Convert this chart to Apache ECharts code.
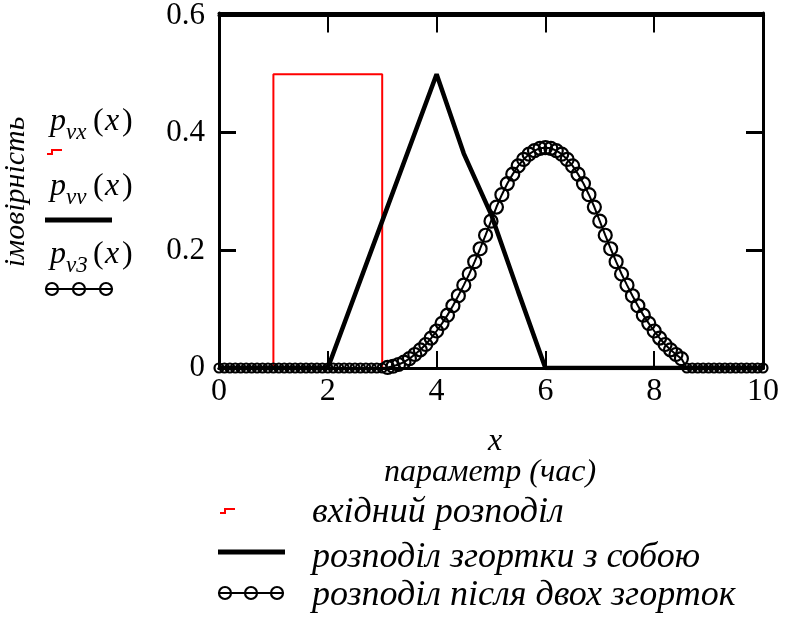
<!DOCTYPE html>
<html>
<head>
<meta charset="utf-8">
<script src="https://cdn.jsdelivr.net/npm/echarts@6/dist/echarts.min.js"></script>
<style>
  html, body { margin: 0; padding: 0; background: #fff; }
  #wrap { position: relative; width: 787px; height: 620px; }
  #chart, #frame, #labels { position: absolute; left: 0; top: 0; width: 787px; height: 620px; }
  #frame, #labels { pointer-events: none; }
</style>
</head>
<body>
<div id="wrap">
  <div id="chart"></div>
  <div id="frame"></div>
  <div id="labels"></div>
</div>
<script>
// значення
var yTicks = [0, 0.2, 0.4, 0.6];

// вхідний розподіл (рівномірний на [1,3])
var pvx = [[0, 0], [1, 0], [1, 0.5], [3, 0.5], [3, 0], [10, 0]];

// розподіл згортки з собою (трикутник)
var pvv = [[0, 0], [2, 0], [3, 0.25], [4, 0.5], [4.5, 0.365], [5, 0.262], [5.5, 0.13], [6, 0], [10, 0]];

// розподіл після двох згорток, крок 0.1 від 0 до 10
var pv3 = [
  0, 0, 0, 0, 0, 0, 0, 0, 0, 0,
  0, 0, 0, 0, 0, 0, 0, 0, 0, 0,
  0, 0, 0, 0, 0, 0, 0, 0, 0, 0,
  0, 0.001, 0.003, 0.006, 0.010, 0.016, 0.023, 0.031, 0.040, 0.051,
  0.063, 0.076, 0.090, 0.106, 0.123, 0.141, 0.160, 0.181, 0.203, 0.226,
  0.250, 0.274, 0.295, 0.314, 0.330, 0.344, 0.355, 0.364, 0.370, 0.374,
  0.375, 0.374, 0.370, 0.364, 0.355, 0.344, 0.330, 0.314, 0.295, 0.274,
  0.250, 0.226, 0.203, 0.181, 0.160, 0.141, 0.123, 0.106, 0.090, 0.076,
  0.063, 0.051, 0.040, 0.031, 0.023, 0.016, 0, 0, 0, 0,
  0, 0, 0, 0, 0, 0, 0, 0, 0, 0,
  0
];
var pv3Step = 0.1;

var legendNames = ['вхідний розподіл', 'розподіл згортки з собою', 'розподіл після двох згорток'];
var yTitle = 'імовірність';
var xTitle = 'x';
var xSubTitle = 'параметр (час)';

var serif = 'Liberation Serif, Times New Roman, serif';

var pv3Data = pv3.map(function (v, i) { return [Math.round(i * pv3Step * 10) / 10, v]; });

var gridBox = { left: 219, right: 24, top: 13, bottom: 252 };
var axisLineStyle = { color: '#000', width: 3 };
var tickStyle = { show: true, inside: true, length: 17, lineStyle: { color: '#000', width: 2 } };
var hiddenSplit = { show: true, lineStyle: { color: 'rgba(0,0,0,0)' } };

// осі: showLabels - чи малювати підписи поділок
function makeAxes(showLabels) {
  return {
    xAxis: [{
      type: 'value', min: 0, max: 10, interval: 2,
      axisLine: { show: true, lineStyle: axisLineStyle },
      axisTick: tickStyle,
      axisLabel: { show: showLabels, color: '#000', fontFamily: serif, fontSize: 32, margin: 8 },
      splitLine: hiddenSplit
    }, {
      type: 'value', position: 'top', min: 0, max: 10, interval: 2,
      axisLine: { show: true, onZero: false, lineStyle: axisLineStyle },
      axisTick: tickStyle, axisLabel: { show: false }, splitLine: hiddenSplit
    }],
    yAxis: [{
      type: 'value', min: 0, max: 0.6, interval: 0.2,
      axisLine: { show: true, lineStyle: axisLineStyle },
      axisTick: tickStyle,
      axisLabel: {
        show: showLabels, color: '#000', fontFamily: serif, fontSize: 31, margin: 14,
        formatter: function (v) { return String(Math.round(v * 10) / 10); }
      },
      splitLine: hiddenSplit
    }, {
      type: 'value', position: 'right', min: 0, max: 0.6, interval: 0.2,
      axisLine: { show: true, onZero: false, lineStyle: axisLineStyle },
      axisTick: tickStyle, axisLabel: { show: false }, splitLine: hiddenSplit
    }]
  };
}

// ---- сам графік: осі та криві ----
var chart = echarts.init(document.getElementById('chart'));
var mainAxes = makeAxes(true);
chart.setOption({
  backgroundColor: '#fff',
  animation: false,
  grid: gridBox,
  xAxis: mainAxes.xAxis,
  yAxis: mainAxes.yAxis,
  series: [{
    type: 'line', data: pvx, showSymbol: false, z: -1,
    lineStyle: { color: '#ff0000', width: 2 }
  }, {
    type: 'line', data: pvv, showSymbol: false, z: 4,
    lineStyle: { color: '#000', width: 4.5 }
  }, {
    type: 'line', data: pv3Data, z: 5,
    symbol: 'circle',
    symbolSize: function (d) { return d[1] === 0 ? 9 : 13; },
    lineStyle: { color: '#000', width: 2 },
    itemStyle: { color: 'rgba(0,0,0,0)', borderColor: '#000', borderWidth: 2.2 }
  }]
});

// ---- рамка з поділками (окремий прозорий шар) ----
var frame = echarts.init(document.getElementById('frame'));
var frameAxes = makeAxes(false);
frame.setOption({
  backgroundColor: 'transparent',
  animation: false,
  grid: gridBox,
  xAxis: frameAxes.xAxis,
  yAxis: frameAxes.yAxis
});

// ---- підписи осей та легенди (окремий шар) ----
var labels = echarts.init(document.getElementById('labels'));

// підпис функції з індексом: p_sub(x), y - базова лінія
function fnLabel(x, y, sub) {
  return {
    type: 'group', x: x, y: y,
    children: [
      { type: 'text', x: 0, y: -11, style: { text: 'p', font: 'italic 32px ' + serif, fill: '#000', verticalAlign: 'middle' } },
      { type: 'text', x: 16, y: 0, style: { text: sub, font: 'italic 23px ' + serif, fill: '#000', verticalAlign: 'middle' } },
      { type: 'text', x: 43, y: -11, style: { text: '(', font: '32px ' + serif, fill: '#000', verticalAlign: 'middle' } },
      { type: 'text', x: 55, y: -11, style: { text: 'x', font: 'italic 32px ' + serif, fill: '#000', verticalAlign: 'middle' } },
      { type: 'text', x: 72, y: -11, style: { text: ')', font: '32px ' + serif, fill: '#000', verticalAlign: 'middle' } }
    ]
  };
}

function circlesIcon(x, y, gap) {
  var r = 6;
  return {
    type: 'group', x: x, y: y,
    children: [
      { type: 'line', shape: { x1: -r, y1: 0, x2: gap * 2 + r, y2: 0 }, style: { stroke: '#000', lineWidth: 2 } },
      { type: 'circle', shape: { cx: 0, cy: 0, r: r }, style: { fill: 'none', stroke: '#000', lineWidth: 2.2 } },
      { type: 'circle', shape: { cx: gap, cy: 0, r: r }, style: { fill: 'none', stroke: '#000', lineWidth: 2.2 } },
      { type: 'circle', shape: { cx: gap * 2, cy: 0, r: r }, style: { fill: 'none', stroke: '#000', lineWidth: 2.2 } }
    ]
  };
}

function stepIcon(x, y) {
  return {
    type: 'polyline', x: x, y: y,
    shape: { points: [[0, 5], [5, 5], [5, 1], [15, 1]] },
    style: { stroke: '#ff0000', lineWidth: 2, fill: 'none' }
  };
}

function legendText(y, text) {
  return { type: 'text', x: 312, y: y, style: { text: text, font: 'italic 36px ' + serif, fill: '#000', verticalAlign: 'middle' } };
}

labels.setOption({
  backgroundColor: 'transparent',
  animation: false,
  graphic: [
    {
      type: 'text', x: 16, y: 192, rotation: Math.PI / 2,
      style: { text: yTitle, font: 'italic 30px ' + serif, fill: '#000', align: 'center', verticalAlign: 'middle' }
    },
    fnLabel(50, 133, 'vx'),
    stepIcon(47, 149),
    fnLabel(50, 198, 'vv'),
    { type: 'line', shape: { x1: 45, y1: 220, x2: 112, y2: 220 }, style: { stroke: '#000', lineWidth: 5 } },
    fnLabel(50, 266, 'v3'),
    circlesIcon(52, 289, 27),
    { type: 'text', x: 495, y: 442, style: { text: xTitle, font: 'italic 32px ' + serif, fill: '#000', align: 'center', verticalAlign: 'middle' } },
    { type: 'text', x: 490, y: 473, style: { text: xSubTitle, font: 'italic 32px ' + serif, fill: '#000', align: 'center', verticalAlign: 'middle' } },
    stepIcon(220, 508),
    legendText(513, legendNames[0]),
    { type: 'line', shape: { x1: 218, y1: 552, x2: 285, y2: 552 }, style: { stroke: '#000', lineWidth: 5 } },
    legendText(558, legendNames[1]),
    circlesIcon(225, 593, 26),
    legendText(596, legendNames[2])
  ]
});
</script>
</body>
</html>
